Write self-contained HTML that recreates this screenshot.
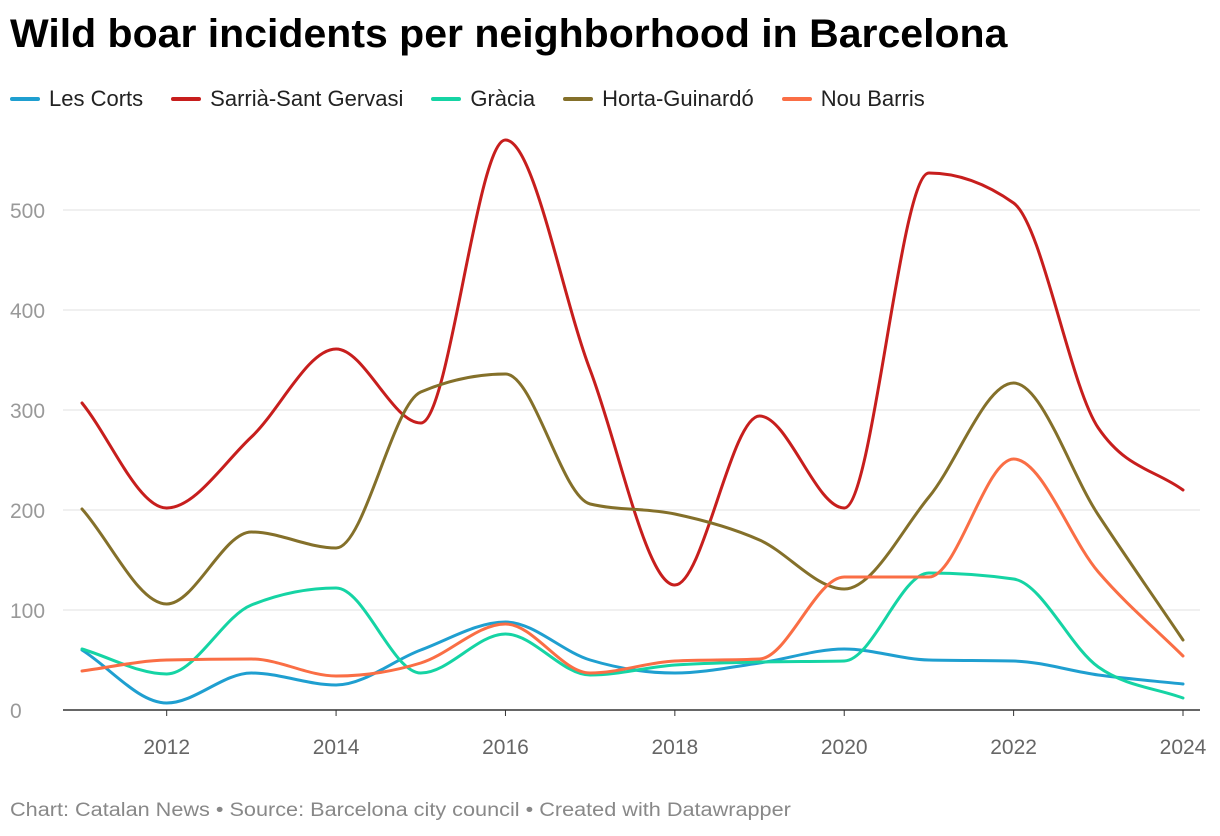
<!DOCTYPE html>
<html><head><meta charset="utf-8"><style>
body{margin:0;background:#fff;font-family:"Liberation Sans",sans-serif;}
#wrap{position:relative;width:1220px;height:836px;overflow:hidden}
h1{position:absolute;left:10px;top:12px;margin:0;font-size:40px;font-weight:bold;color:#000;transform-origin:0 0;transform:scaleX(1.025);white-space:nowrap}
#legend{position:absolute;left:10px;top:86px;font-size:22px;color:#222;display:flex;gap:28px;white-space:nowrap}
.li{display:flex;align-items:center}
.sw{display:inline-block;width:30px;height:4px;border-radius:2px;margin-right:9px}
#foot{position:absolute;left:10px;top:800px;font-size:19px;color:#888;transform-origin:0 0;transform:scaleX(1.14);white-space:nowrap}
</style></head><body>
<div id="wrap">
<h1>Wild boar incidents per neighborhood in Barcelona</h1>
<div id="legend"></div>
<svg id="chart" width="1220" height="836" style="position:absolute;left:0;top:0"></svg>
<div id="foot">Chart: Catalan News • Source: Barcelona city council • Created with Datawrapper</div>
</div>
<script>
const years=[2011,2012,2013,2014,2015,2016,2017,2018,2019,2020,2021,2022,2023,2024];
const seriesNames=["Les Corts","Sarrià-Sant Gervasi","Gràcia","Horta-Guinardó","Nou Barris"];
const lesCorts=[60,7,37,25,60,88,50,37,47,61,50,49,35,26];
const sarria=[307,202,273,361,287,570,340,125,294,202,537,507,282,220];
const gracia=[61,36,105,122,37,76,35,45,48,49,137,131,43,12];
const horta=[201,106,178,162,318,336,206,196,170,121,213,327,195,70];
const nouBarris=[39,50,51,34,47,86,37,49,51,133,133,251,138,54];
const yTicks=[0,100,200,300,400,500];
const xTicks=[2012,2014,2016,2018,2020,2022,2024];
const colors=["#1f9fd0","#c71e1d","#15d4a4","#84702a","#fa6e45"];
const allSeries=[lesCorts,sarria,gracia,horta,nouBarris];
const NS="http://www.w3.org/2000/svg";
const svg=document.getElementById('chart');
const x=v=>82+(v-2011)*(1183-82)/13;
const y=v=>710-v*(500/500);
function mk(t,a){const e=document.createElementNS(NS,t);for(const k in a)e.setAttribute(k,a[k]);svg.appendChild(e);return e;}
yTicks.forEach(t=>{
  if(t>0){const g=mk('line',{x1:63,x2:1200,y1:y(t),y2:y(t),stroke:'#e0e0e0','stroke-width':1});
  
  }
  const l=mk('text',{x:10,y:y(t)+8,'font-size':21,fill:'#999'});l.textContent=t;
  
  
});
const ax=mk('line',{x1:63,x2:1200,y1:710,y2:710,stroke:'#333','stroke-width':1.5});


xTicks.forEach(t=>{
  const tk=mk('line',{x1:x(t),x2:x(t),y1:710,y2:716,stroke:'#333','stroke-width':1});
  
  
  const l=mk('text',{x:x(t),y:754,'font-size':21,fill:'#666','text-anchor':'middle'});l.textContent=t;
  
  
});
function monoPath(xs,ys){
  const n=xs.length,d=[],m=[];
  for(let i=0;i<n-1;i++)d.push((ys[i+1]-ys[i])/(xs[i+1]-xs[i]));
  for(let i=0;i<n;i++){
    if(i===0)m.push(d[0]);else if(i===n-1)m.push(d[n-2]);
    else{ if(d[i-1]*d[i]<=0)m.push(0);else{const h0=xs[i]-xs[i-1],h1=xs[i+1]-xs[i];
      const s=(d[i-1]*h1+d[i]*h0)/(h0+h1);
      m.push((Math.sign(d[i-1])+Math.sign(d[i]))*Math.min(Math.abs(d[i-1]),Math.abs(d[i]),0.5*Math.abs(s)));}}
  }
  let p='M'+xs[0]+','+ys[0];
  for(let i=0;i<n-1;i++){const h=(xs[i+1]-xs[i])/3;
    p+=` C${xs[i]+h},${ys[i]+m[i]*h} ${xs[i+1]-h},${ys[i+1]-m[i+1]*h} ${xs[i+1]},${ys[i+1]}`;}
  return p;
}
const lg=document.getElementById('legend');
allSeries.forEach((s,i)=>{
  const p=mk('path',{d:monoPath(years.map(x),s.map(y)),fill:'none',stroke:colors[i],'stroke-width':3,'stroke-linejoin':'round','stroke-linecap':'round'});
  
  
  const it=document.createElement('span');it.className='li';
  
  
  it.innerHTML='<span class="sw" style="background:'+colors[i]+'"></span>'+seriesNames[i];
  lg.appendChild(it);
});
</script>
</body></html>
